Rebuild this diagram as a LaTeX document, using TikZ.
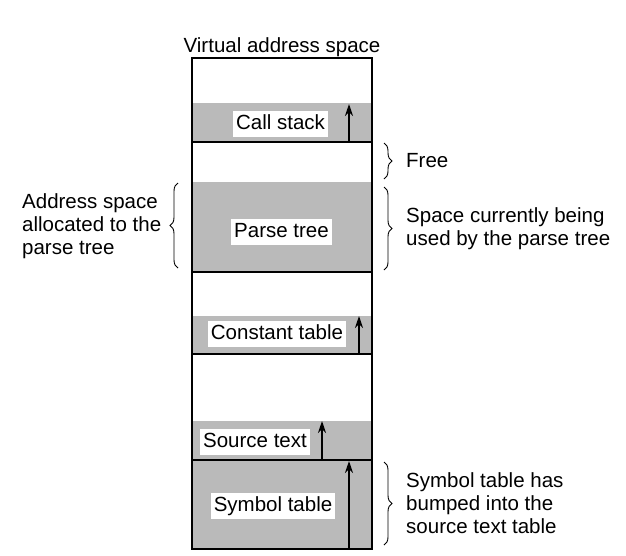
\documentclass[tikz,border=0pt]{standalone}
\usepackage{fontspec}
\setmainfont{Liberation Sans}
\usetikzlibrary{arrows.meta,decorations.pathreplacing}

\newlength{\du}
\setlength{\du}{1pt}
\newcommand{\memfont}{\fontsize{20.5}{23}\selectfont}
\definecolor{usedgray}{rgb}{0.730000, 0.730000, 0.730000}

\tikzset{
  usedpart/.style={fill=usedgray, draw=none},
  segline/.style={line width=2.6\du, line join=miter},
  growarrow/.style={line width=1.8\du, -{Stealth[length=12pt,width=8pt]}},
  seglabel/.style={fill=white, font=\memfont, inner xsep=3\du, inner ysep=3.5\du,
    text height=15\du, text depth=4\du},
  sidetext/.style={font=\memfont, align=left, inner sep=0pt},
  sidebrace/.style={decorate, decoration={brace, amplitude=8pt}, line width=0.9\du},
}

\begin{document}
\begin{tikzpicture}
\pgftransformyscale{-1.000000}
\useasboundingbox (0\du,0\du) rectangle (626\du,555\du);
\node[font=\memfont, anchor=base] (vaspace) at (282\du,52\du){Virtual address space};
% used parts of each segment
\fill[usedpart] (192\du,103\du) rectangle (372\du,142\du);
\fill[usedpart] (192\du,182\du) rectangle (372\du,272\du);
\fill[usedpart] (192\du,316\du) rectangle (372\du,354\du);
\fill[usedpart] (192\du,421\du) rectangle (372\du,549\du);
% segment borders
\draw[segline] (192\du,58\du) rectangle (372\du,549\du);
\draw[segline] (192\du,142\du)--(372\du,142\du);
\draw[segline] (192\du,272\du)--(372\du,272\du);
\draw[segline] (192\du,354\du)--(372\du,354\du);
\draw[segline] (192\du,460\du)--(372\du,460\du);
% growth arrows
\coordinate (cs-base) at (349\du,142\du);
\coordinate (cs-top) at (349\du,104\du);
\coordinate (ct-base) at (359\du,354\du);
\coordinate (ct-top) at (359\du,316\du);
\coordinate (st-base) at (322\du,460\du);
\coordinate (st-top) at (322\du,421\du);
\coordinate (sy-base) at (349\du,549\du);
\coordinate (sy-top) at (349\du,461\du);
\draw[growarrow] (cs-base)--(cs-top);
\draw[growarrow] (ct-base)--(ct-top);
\draw[growarrow] (st-base)--(st-top);
\draw[growarrow] (sy-base)--(sy-top);
% segment names
\node[seglabel] (callstack) at (280.5\du,124\du){Call stack};
\node[seglabel] (parsetree) at (281.5\du,232\du){Parse tree};
\node[seglabel] (consttable) at (277\du,334\du){Constant table};
\node[seglabel] (sourcetext) at (255\du,442\du){Source text};
\node[seglabel] (symtable) at (273\du,506\du){Symbol table};
% braces
\coordinate (lb-top) at (178\du,183\du);
\coordinate (lb-bot) at (178\du,268\du);
\coordinate (fr-top) at (384\du,143\du);
\coordinate (fr-bot) at (384\du,179\du);
\coordinate (pt-top) at (384\du,187\du);
\coordinate (pt-bot) at (384\du,270\du);
\coordinate (sy-btop) at (384\du,462\du);
\coordinate (sy-bbot) at (384\du,545\du);
\draw[sidebrace] (lb-bot)--(lb-top);
\draw[sidebrace] (fr-top)--(fr-bot);
\draw[sidebrace] (pt-top)--(pt-bot);
\draw[sidebrace] (sy-btop)--(sy-bbot);
% side notes
\node[sidetext, anchor=west] (allocnote) at (22\du,226\du){Address space\\allocated to the\\parse tree};
\node[sidetext, anchor=west] (freenote) at (406\du,161\du){Free};
\node[sidetext, anchor=west] (usednote) at (406\du,229\du){Space currently being\\used by the parse tree};
\node[sidetext, anchor=west] (bumpnote) at (406\du,503\du){Symbol table has\\bumped into the\\source text table};
\end{tikzpicture}
\end{document}
